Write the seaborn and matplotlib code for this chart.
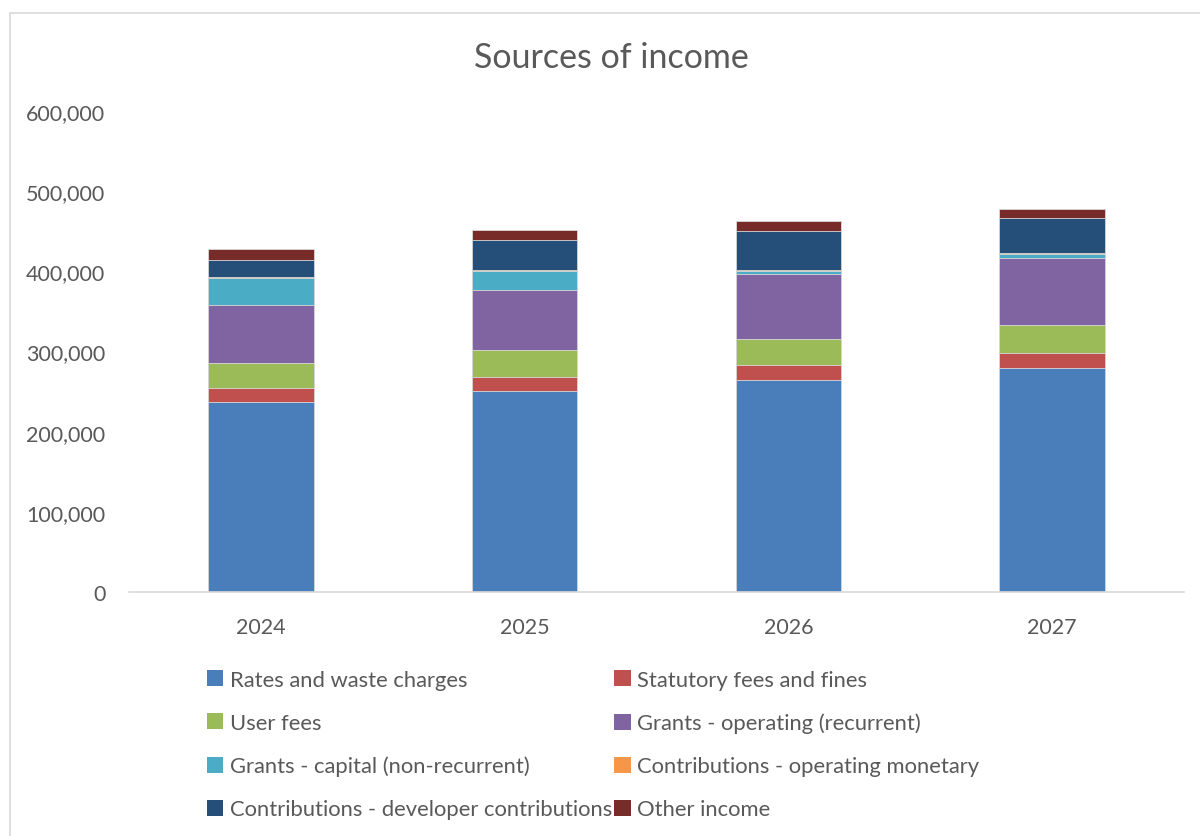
import matplotlib
matplotlib.use("Agg")
import matplotlib.pyplot as plt
from matplotlib.patches import Patch, Rectangle
from matplotlib.ticker import FuncFormatter
import seaborn as sns
import pandas as pd
import numpy as np

years = ["2024", "2025", "2026", "2027"]
series_names = [
    "Rates and waste charges",
    "Statutory fees and fines",
    "User fees",
    "Grants - operating (recurrent)",
    "Grants - capital (non-recurrent)",
    "Contributions - operating monetary",
    "Contributions - developer contributions",
    "Other income",
]
rates = [237000, 251100, 264800, 279800]
statutory = [17500, 17500, 18200, 18200]
user_fees = [30800, 32900, 32800, 35300]
grants_operating = [72300, 75600, 80700, 83600]
grants_capital = [34000, 23700, 4100, 4600]
contrib_operating = [800, 500, 500, 800]
contrib_developer = [22000, 37400, 49000, 44100]
other_income = [13300, 12900, 12900, 11600]

colors = ["#4A7EBB", "#C0504D", "#9BBB59", "#8064A2",
          "#4BACC6", "#F79646", "#254E78", "#772C2A"]

values = [rates, statutory, user_fees, grants_operating, grants_capital,
          contrib_operating, contrib_developer, other_income]

df = pd.DataFrame({"year": years})
for name, vals in zip(series_names, values):
    df[name] = vals

sns.set_theme(style="white")
plt.rcParams["font.family"] = ["Lato", "DejaVu Sans"]
text_color = "#595959"

fig = plt.figure(figsize=(12, 8.37), dpi=100)
ax = fig.add_axes([129/1200, 1-593/837, (1184-129)/1200, (593-112)/837])

cum = df[series_names].cumsum(axis=1)
for i in range(len(series_names) - 1, -1, -1):
    tmp = pd.DataFrame({"year": years, "value": cum[series_names[i]].values})
    sns.barplot(data=tmp, x="year", y="value", color=colors[i], width=0.4,
                saturation=1, ax=ax, edgecolor="#D9D9D9", linewidth=0.6)

ax.set_ylim(0, 600000)
ax.set_xlim(-0.5, 3.5)
ax.set_yticks(np.arange(0, 600001, 100000))
ax.yaxis.set_major_formatter(FuncFormatter(lambda v, p: f"{int(v):,}"))
ax.set_xlabel("")
ax.set_ylabel("")
for s in ["top", "right", "left"]:
    ax.spines[s].set_visible(False)
ax.spines["bottom"].set_color("#D9D9D9")
ax.spines["bottom"].set_linewidth(1.2)
ax.tick_params(axis="both", length=0, labelsize=15.5, colors=text_color)
ax.tick_params(axis="y", pad=17)
ax.tick_params(axis="x", pad=18)
ax.grid(False)

fig.text(611/1200, 1-58/837, "Sources of income", ha="center", va="center",
         fontsize=24.5, color=text_color)

handles = [Patch(facecolor=c, edgecolor="none") for c in colors]
order = [0, 2, 4, 6, 1, 3, 5, 7]
leg = fig.legend([handles[i] for i in order], [series_names[i] for i in order],
                 ncol=2, loc="upper left", bbox_to_anchor=(198/1200, 1-662/837),
                 frameon=False, fontsize=15.8, handlelength=0.75, handleheight=0.75,
                 handletextpad=0.3, columnspacing=0.1, labelspacing=1.05,
                 labelcolor=text_color, borderaxespad=0)

fig.patches.append(Rectangle((10/1200, -0.1), 1.2, 1.1 - 14/837,
                             transform=fig.transFigure, fill=False,
                             edgecolor="#D9D9D9", linewidth=1.2))

fig.savefig("out.png", dpi=100)
